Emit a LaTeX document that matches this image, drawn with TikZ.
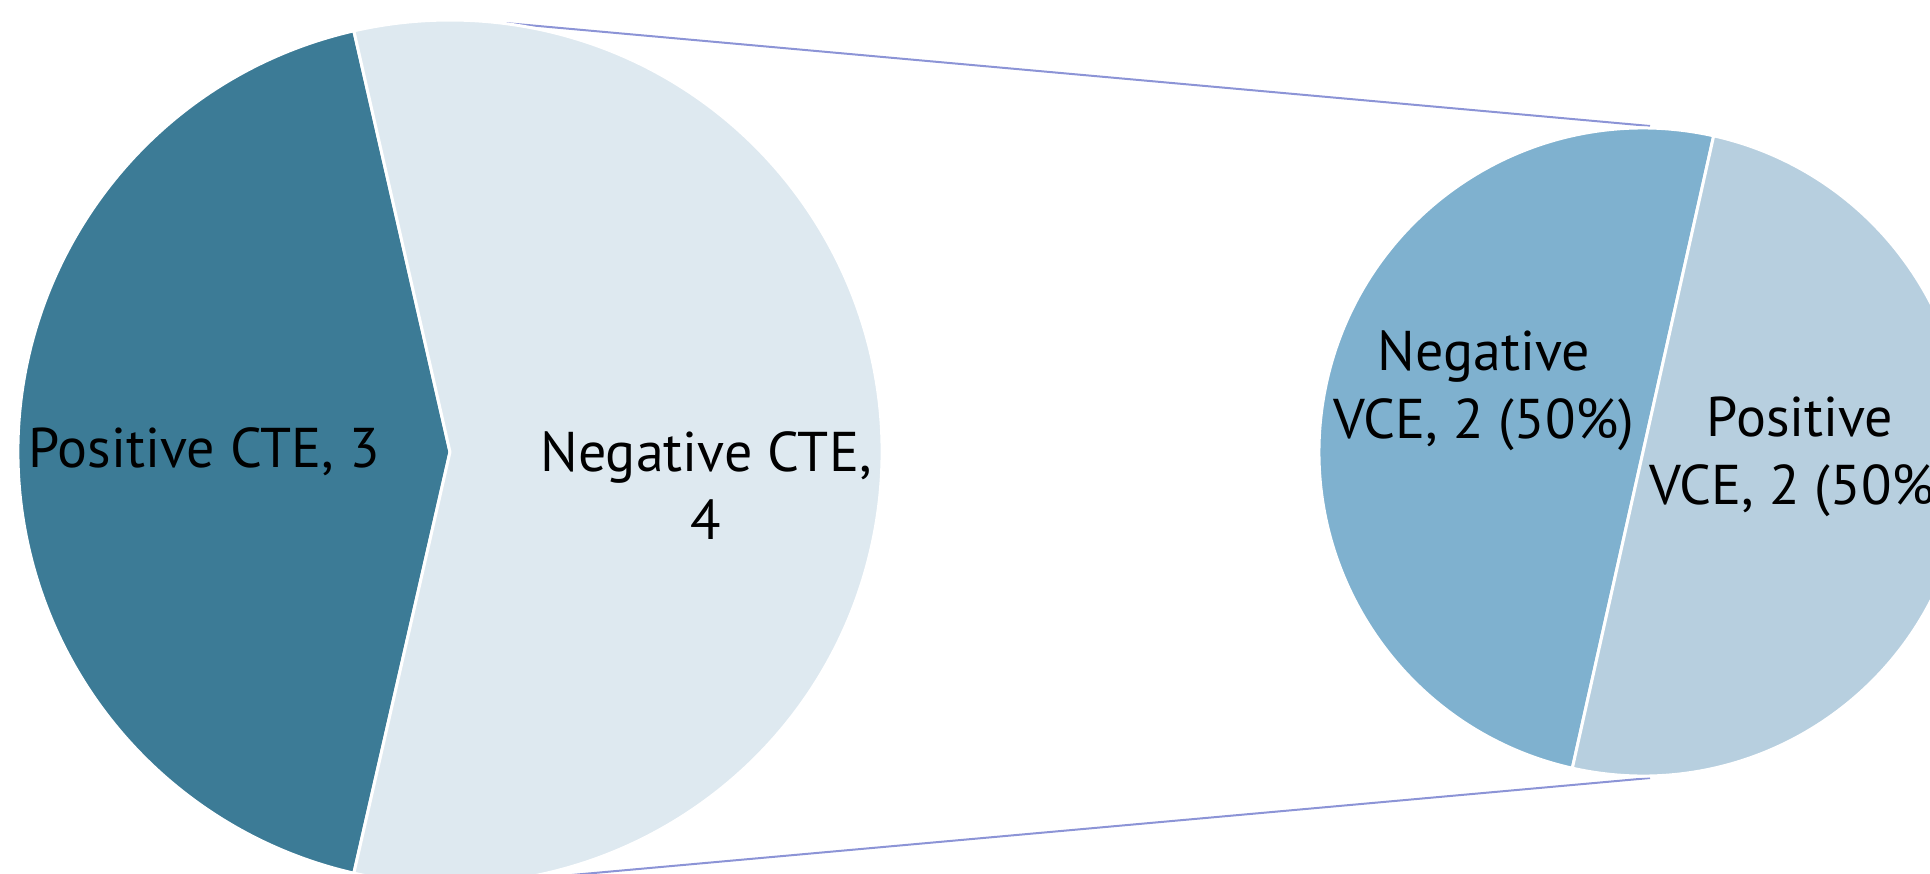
\documentclass[tikz,border=0pt]{standalone}
\usepackage{fontspec}
\setmainfont{PT Sans}
\definecolor{darkslice}{RGB}{60,123,150}
\definecolor{lightslice}{RGB}{222,233,240}
\definecolor{midslice}{RGB}{127,177,207}
\definecolor{paleslice}{RGB}{183,207,223}
\definecolor{serieslink}{RGB}{140,148,214}
\tikzset{
  slice/.style={draw=white, line width=3pt, line join=round},
  link/.style={draw=serieslink, line width=2pt},
  lbl/.style={align=center, inner sep=0pt, font=\fontsize{56}{68}\selectfont, text=black}
}
\begin{document}
\begin{tikzpicture}[x=1pt,y=1pt]
\useasboundingbox (0,0) rectangle (1930,-873);
\clip (0,0) rectangle (1930,-873);
% centres and link end points
\coordinate (c1) at (450,-452);
\coordinate (c2) at (1643,-452);
\coordinate (t1) at (505,-23);
\coordinate (b1) at (505,-881);
\coordinate (t2) at (1650,-126);
\coordinate (b2) at (1650,-778);
% series lines (behind the pies)
\draw[link] (t1) -- (t2);
\draw[link] (b1) -- (b2);
% main pie
\path[slice, fill=darkslice] (c1) -- ++(102.86:432) arc[start angle=102.86, end angle=257.14, radius=432] -- cycle;
\path[slice, fill=lightslice] (c1) -- ++(-102.86:432) arc[start angle=-102.86, end angle=102.86, radius=432] -- cycle;
% secondary pie
\path[slice, fill=midslice] (c2) -- ++(77.4:324) arc[start angle=77.4, end angle=257.4, radius=324] -- cycle;
\path[slice, fill=paleslice] (c2) -- ++(-102.6:324) arc[start angle=-102.6, end angle=77.4, radius=324] -- cycle;
% labels
\node[lbl] (poscte) at (204,-452) {Positive CTE, 3};
\node[lbl] (negcte) at (706,-486) {Negative CTE,\\4};
\node[lbl] (negvce) at (1484,-391) {Negative\\VCE, 2 (50\%)};
\node[lbl] (posvce) at (1800,-457) {Positive\\VCE, 2 (50\%)};
\end{tikzpicture}
\end{document}
